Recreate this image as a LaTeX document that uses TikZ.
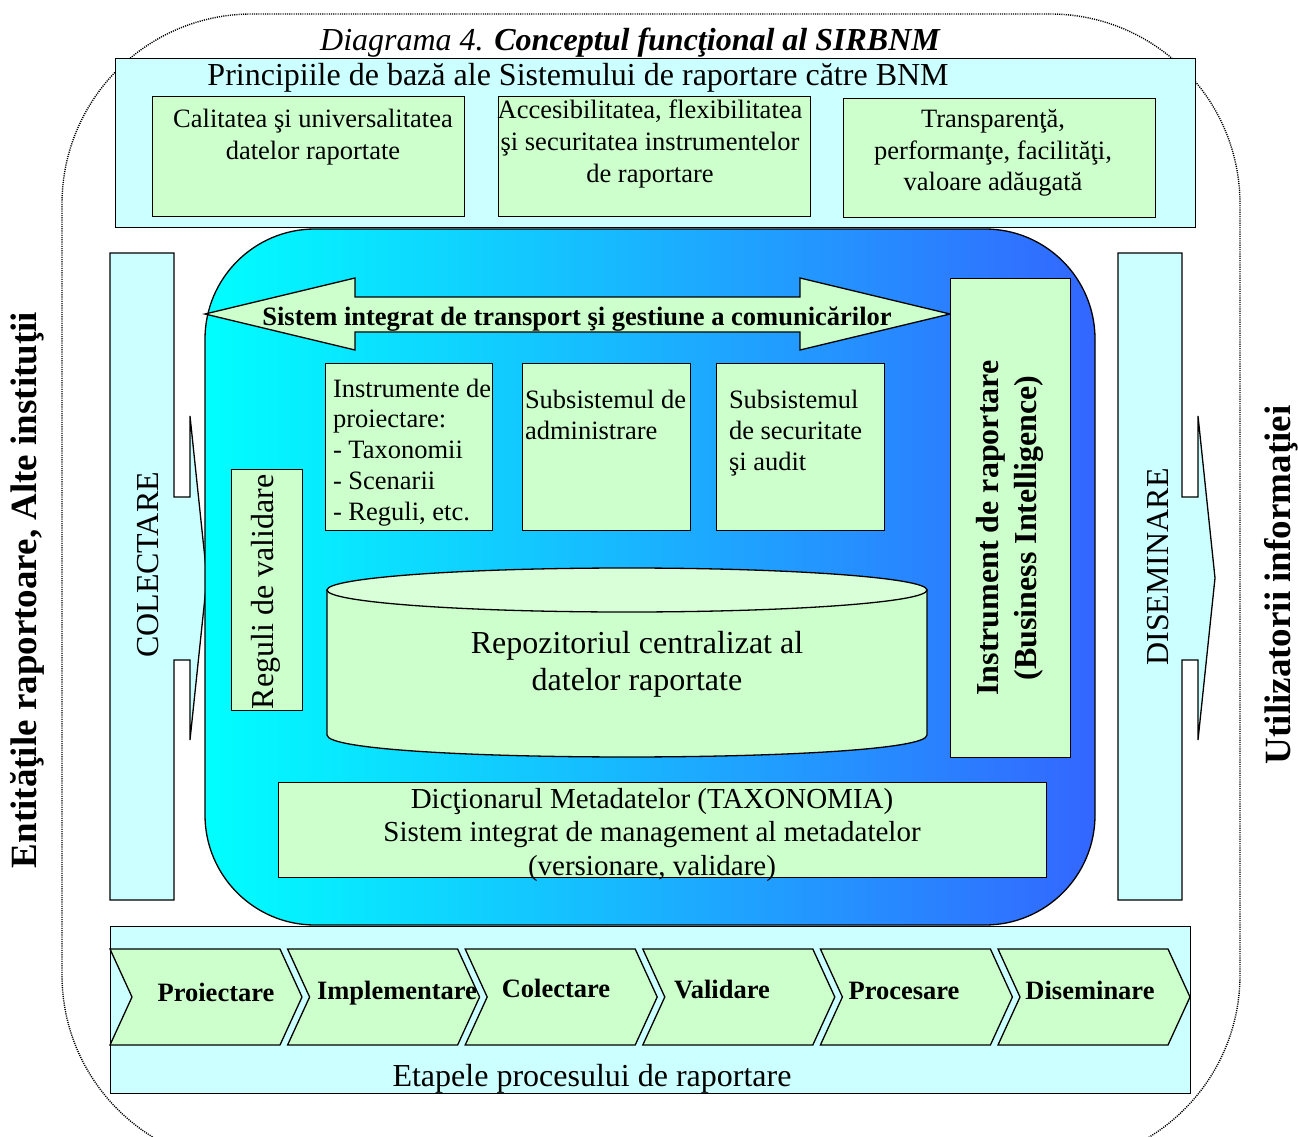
\documentclass[tikz,border=0pt]{standalone}
\usepackage{fontspec}
\setmainfont{Liberation Serif}
\definecolor{paneCyan}{HTML}{CCFFFF}
\definecolor{boxGreen}{HTML}{CCFFCC}
\definecolor{topGreen}{HTML}{D8FFD8}
\definecolor{gradL}{HTML}{00FFFF}
\definecolor{gradR}{HTML}{3366FF}
\newcommand\fsBody{\fontsize{26.5}{31.5}\selectfont}
\newcommand\fsBig{\fontsize{32}{37}\selectfont}
\newcommand\fsMid{\fontsize{29}{33.5}\selectfont}
\newcommand\fsSide{\fontsize{37}{44}\selectfont}
\newcommand\mlc[1]{\begin{tabular}[t]{@{}c@{}}#1\end{tabular}}
\newcommand\mll[1]{\begin{tabular}[t]{@{}l@{}}#1\end{tabular}}
\tikzset{
  outline/.style={draw=black, line width=1.3pt},
  pane/.style={outline, fill=paneCyan, inner sep=0pt},
  gbox/.style={outline, fill=boxGreen, inner sep=0pt},
  txt/.style={inner sep=0pt, outer sep=0pt, text=black},
}
\begin{document}
\begin{tikzpicture}[x=1pt,y=-1pt]
\useasboundingbox (0,0) rectangle (1298,1137);

% dotted outer frame
\draw[dash pattern=on 1.1pt off 1.1pt, line width=1.4pt, rounded corners=190pt] (62,14) rectangle (1240,1165);

% title
\node[txt, anchor=base] (title) at (630,51) {\fsBig\itshape Diagrama 4. \bfseries Conceptul funcţional al SIRBNM};

% principles pane
\node[pane, anchor=north west, minimum width=1080pt, minimum height=169pt] (principles) at (115,58) {};
\node[txt, anchor=base] (principlesT) at (578,86) {\fsBig Principiile de bază ale Sistemului de raportare către BNM};
\node[gbox, anchor=north west, minimum width=312pt, minimum height=120pt] (p1) at (152,96) {};
\node[txt, anchor=base] (p1T) at (313,128) {\fsBody\mlc{Calitatea şi universalitatea\\datelor raportate}};
\node[gbox, anchor=north west, minimum width=312pt, minimum height=120pt] (p2) at (498,96) {};
\node[txt, anchor=base] (p2T) at (650,119) {\fsBody\mlc{Accesibilitatea, flexibilitatea\\şi securitatea instrumentelor\\de raportare}};
\node[gbox, anchor=north west, minimum width=312pt, minimum height=119pt] (p3) at (843,98) {};
\node[txt, anchor=base] (p3T) at (993,128) {\fsBody\mlc{Transparenţă,\\performanţe, facilităţi,\\valoare adăugată}};

% side block arrows
\draw[outline, fill=paneCyan] (110,253) -- (174,253) -- (174,497) -- (190,497) -- (190,416) -- (207,578) -- (190,740) -- (190,660) -- (174,660) -- (174,900) -- (110,900) -- cycle;
\node[txt, rotate=90] (collectT) at (148,565) {\fsBig COLECTARE};
\draw[outline, fill=paneCyan] (1118,253) -- (1182,253) -- (1182,497) -- (1198,497) -- (1198,416) -- (1215,578) -- (1198,740) -- (1198,660) -- (1182,660) -- (1182,900) -- (1118,900) -- cycle;
\node[txt, rotate=90] (dissT) at (1158,567) {\fsBig DISEMINARE};

% side labels
\node[txt, rotate=90] (entities) at (27,590) {\fsSide\bfseries Entităţile raportoare, Alte instituţii};
\node[txt, rotate=90] (users) at (1281,585) {\fsSide\bfseries Utilizatorii informaţiei};

% central hub
\path[draw=black, line width=1.3pt, left color=gradL, right color=gradR, rounded corners=110pt] (205,229) rectangle (1095,925);

% double arrow
\draw[outline, fill=boxGreen] (205,314) -- (355,278) -- (355,297) -- (800,297) -- (800,278) -- (950,314) -- (800,350) -- (800,332) -- (355,332) -- (355,350) -- cycle;
\node[txt, anchor=base] (transportT) at (577,325) {\fsBody\bfseries Sistem integrat de transport şi gestiune a comunicărilor};

% inner boxes
\node[gbox, anchor=north west, minimum width=167pt, minimum height=167pt] (tools) at (325,363) {};
\node[txt, anchor=base west] (toolsT) at (333,397) {\fontsize{26.5}{30.8}\selectfont\mll{Instrumente de\\proiectare:\\- Taxonomii\\- Scenarii\\- Reguli, etc.}};
\node[gbox, anchor=north west, minimum width=168pt, minimum height=167pt] (admin) at (522,363) {};
\node[txt, anchor=base west] (adminT) at (525,408) {\fontsize{26.5}{31}\selectfont\mll{Subsistemul de\\administrare}};
\node[gbox, anchor=north west, minimum width=168pt, minimum height=167pt] (secur) at (716,363) {};
\node[txt, anchor=base west] (securT) at (729,408) {\fontsize{26.5}{31}\selectfont\mll{Subsistemul\\de securitate\\şi audit}};
\node[gbox, anchor=north west, minimum width=71pt, minimum height=241pt] (rules) at (231,469) {};
\node[txt, rotate=90] (rulesT) at (266,592) {\fsBig Reguli de validare};

% repository cylinder
\path[outline, fill=boxGreen] (327,590) -- (327,735) .. controls (327,764.3) and (927,764.3) .. (927,735) -- (927,590) -- cycle;
\draw[outline, fill=topGreen] (627,590) ellipse [x radius=300, y radius=22];
\node[txt, anchor=base] (repoT) at (637,653) {\fsBig\mlc{Repozitoriul centralizat al\\datelor raportate}};

% BI box
\node[gbox, anchor=north west, minimum width=120pt, minimum height=479pt] (bi) at (950,278) {};
\node[txt, rotate=90] (biT) at (1010,528) {\fontsize{32}{38}\selectfont\bfseries\mlc{Instrument de raportare\\(Business Intelligence)}};

% metadata dictionary
\node[gbox, anchor=north west, minimum width=768pt, minimum height=95pt] (dict) at (278,782) {};
\node[txt, anchor=base] (dictT) at (652,808) {\fsMid\mlc{Dicţionarul Metadatelor (TAXONOMIA)\\Sistem integrat de management al metadatelor\\(versionare, validare)}};

% process stages pane
\node[pane, anchor=north west, minimum width=1080pt, minimum height=167pt] (stages) at (110,926) {};
\foreach \i/\lab/\cx/\by in {0/Proiectare/216/1001, 1/Implementare/397/999, 2/Colectare/556/997, 3/Validare/722/998, 4/Procesare/904/999, 5/Diseminare/1090/999}{
  \pgfmathsetmacro\xl{110+177.6*\i}
  \draw[outline, fill=boxGreen] (\xl,949) -- ++(170,0) -- ++(22,48) -- ++(-22,48) -- ++(-170,0) -- ++(22,-48) -- cycle;
  \node[txt, anchor=base] (chev\i) at (\cx,\by) {\fsBody\bfseries \lab};
}
\node[txt, anchor=base] (stagesT) at (592,1086) {\fsBig Etapele procesului de raportare};
\end{tikzpicture}
\end{document}
